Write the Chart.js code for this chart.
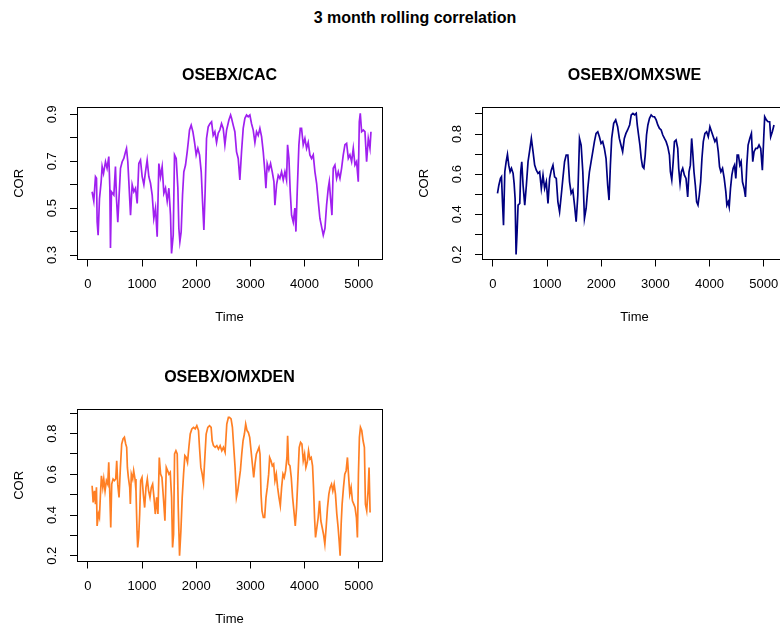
<!DOCTYPE html>
<html>
<head>
<meta charset="utf-8">
<title>3 month rolling correlation</title>
<script src="https://cdn.jsdelivr.net/npm/chart.js@4.4.0/dist/chart.umd.min.js"></script>
<style>
  html, body { margin: 0; padding: 0; background: #fff; overflow: hidden; }
  body { width: 780px; height: 628px; position: relative; }
  canvas { position: absolute; }
  #mainTitle {
    position: absolute; top: 8px; left: 0; width: 830px; text-align: center;
    font: bold 16px "Liberation Sans", Arial, sans-serif; line-height: 20px; color: #000;
  }
</style>
</head>
<body>
<div id="mainTitle">3 month rolling correlation</div>
<canvas id="chartCac" width="390" height="265" style="left:0px;top:60px"></canvas>
<canvas id="chartSwe" width="390" height="265" style="left:405px;top:60px"></canvas>
<canvas id="chartDen" width="390" height="265" style="left:0px;top:362px"></canvas>
<script>
// x axis ticks (trading day index)
var xTicks = [0, 1000, 2000, 3000, 4000, 5000];

// OSEBX/CAC
var cacTime = [79,110,141,160,172,190,215,246,264,290,326,355,387,406,418,436,480,510,529,553,578,603,634,664,695,714,738,757,775,788,818,849,880,911,941,972,1003,1034,1064,1095,1126,1157,1188,1218,1249,1280,1311,1342,1372,1403,1434,1465,1496,1526,1545,1576,1600,1631,1662,1680,1699,1723,1748,1772,1803,1834,1853,1877,1908,1939,1970,2000,2031,2062,2093,2117,2142,2167,2191,2222,2253,2284,2314,2345,2376,2407,2437,2468,2499,2530,2561,2604,2635,
  2653,2683,2714,2745,2776,2806,2837,2868,2899,2930,2960,2991,3022,3053,3084,3114,3145,3176,3207,3238,3268,3287,3311,3342,3373,3404,3435,3453,3484,3515,3545,3576,3607,3638,3668,3687,3712,3736,3761,3792,3822,3841,3865,3896,3921,3945,3976,4007,4038,4068,4099,4130,4161,4192,4223,4253,4284,4315,4346,4377,4407,4438,4457,4481,4506,4530,4561,4592,4623,4654,4684,4715,4746,4777,4808,4838,4869,4900,4931,4961,4992,5011,5029,5054,5085,5115,5146,5177,5208,5226];
var cacCor = [0.57,0.53,0.634,0.627,0.442,0.385,0.54,0.613,0.677,0.648,0.698,0.67,0.72,0.59,0.33,0.57,0.556,0.677,0.54,0.44,0.556,0.67,0.698,0.712,0.74,0.755,0.698,0.613,0.53,0.47,0.60,0.57,0.585,0.52,0.69,0.705,0.634,0.60,0.655,0.705,0.634,0.606,0.556,0.456,0.50,0.378,0.69,0.634,0.677,0.563,0.585,0.53,0.585,0.47,0.307,0.385,0.727,0.712,0.585,0.414,0.357,0.40,0.556,0.655,0.684,0.74,0.78,0.833,0.854,0.826,0.78,0.727,0.755,0.727,0.655,0.53,0.407,0.585,0.797,0.847,0.86,0.868,0.81,0.826,0.78,0.82,0.833,0.86,0.84,0.77,0.833,0.876,0.897,
  0.883,0.854,0.826,0.74,0.712,0.62,0.74,0.84,0.883,0.897,0.89,0.897,0.86,0.833,0.78,0.826,0.81,0.84,0.805,0.74,0.655,0.585,0.69,0.663,0.69,0.655,0.613,0.513,0.60,0.64,0.627,0.655,0.62,0.655,0.62,0.77,0.712,0.57,0.47,0.44,0.50,0.40,0.57,0.77,0.84,0.84,0.77,0.797,0.755,0.78,0.727,0.712,0.727,0.655,0.606,0.53,0.456,0.42,0.385,0.414,0.513,0.585,0.613,0.54,0.47,0.67,0.684,0.627,0.655,0.627,0.67,0.727,0.77,0.776,0.712,0.727,0.698,0.755,0.684,0.698,0.613,0.868,0.904,0.826,0.833,0.826,0.698,0.797,0.755,0.826];
var cacTicks = [0.3, 0.4, 0.5, 0.6, 0.7, 0.8, 0.9];
var cacLabels = [0.3, 0.5, 0.7, 0.9];

// OSEBX/OMXSWE
var sweTime = [86,111,141,160,178,197,221,246,270,294,319,344,374,393,411,429,448,466,497,515,534,558,589,619,650,681,711,742,772,803,834,864,895,926,956,987,1018,1048,1079,1110,1140,1171,1201,1232,1263,1293,1324,1354,1385,1416,1446,1477,1508,1538,1569,1600,1630,1661,1691,1722,1753,1783,1814,1845,1875,1906,1937,1967,1998,2028,2059,2090,2120,2145,2170,2194,2231,2268,2304,2335,2365,2396,2427,2457,2488,
  2525,2555,2586,2617,2647,2666,2690,2715,2739,2764,2788,2813,2837,2862,2892,2923,2954,2984,3015,3045,3076,3107,3137,3168,3199,3229,3260,3278,3303,3327,3352,3382,3413,3431,3456,3480,3505,3536,3566,3597,3621,3646,3670,3689,3713,3738,3762,3787,3811,3836,3860,3885,3915,3946,3977,4007,4038,4069,4099,4130,4161,4185,4210,4240,4271,4301,4320,4344,4363,4387,4412,4436,4461,4485,4510,4534,4559,4583,4608,4639,4663,4688,4712,4743,4773,4798,4822,4853,4884,4914,4945,4975,5000,5018,5049,5080,5110,5129,5159,5190];
var sweCor = [0.504,0.545,0.579,0.587,0.462,0.346,0.612,0.662,0.698,0.645,0.612,0.629,0.604,0.554,0.479,0.20,0.313,0.446,0.454,0.612,0.662,0.545,0.446,0.545,0.662,0.72,0.778,0.712,0.645,0.62,0.604,0.612,0.529,0.595,0.529,0.562,0.454,0.579,0.62,0.645,0.587,0.579,0.462,0.412,0.495,0.579,0.662,0.695,0.695,0.562,0.504,0.52,0.446,0.363,0.495,0.778,0.745,0.612,0.379,0.429,0.529,0.612,0.662,0.712,0.762,0.803,0.811,0.786,0.753,0.762,0.728,0.678,0.545,0.471,0.645,0.778,0.853,0.870,0.836,0.778,0.745,0.712,0.778,0.803,0.820,
  0.845,0.895,0.903,0.895,0.903,0.845,0.795,0.745,0.679,0.637,0.629,0.695,0.795,0.845,0.878,0.895,0.886,0.886,0.87,0.845,0.828,0.82,0.795,0.778,0.762,0.737,0.695,0.612,0.571,0.654,0.762,0.770,0.728,0.629,0.554,0.612,0.629,0.595,0.579,0.487,0.612,0.645,0.778,0.712,0.612,0.545,0.462,0.446,0.495,0.562,0.679,0.762,0.803,0.811,0.786,0.836,0.811,0.786,0.762,0.778,0.712,0.637,0.612,0.629,0.579,0.512,0.446,0.462,0.437,0.529,0.595,0.629,0.645,0.579,0.695,0.695,0.645,0.662,0.562,0.529,0.487,0.645,0.745,0.778,0.803,0.662,0.712,0.728,0.728,0.745,0.728,0.62,0.778,0.886,0.87,0.861,0.861,0.786,0.811,0.845];
var sweTicks = [0.2, 0.3, 0.4, 0.5, 0.6, 0.7, 0.8, 0.9];
var sweLabels = [0.2, 0.4, 0.6, 0.8];

// OSEBX/OMXDEN
var denTime = [79,98,122,141,159,171,196,214,233,251,276,294,318,343,368,386,404,423,441,466,490,515,533,552,576,601,625,650,675,699,717,730,748,773,785,803,828,846,871,889,908,920,938,957,975,1000,1024,1049,1073,1098,1122,1147,1172,1196,1221,1245,1270,1294,1319,1343,1368,1399,1423,1448,1472,1497,1521,1546,1564,1583,1601,1626,1650,1669,1693,1718,1742,1767,1791,1816,1840,1865,1890,1920,1951,1982,2012,2043,2061,2086,2111,2135,2160,2184,2215,2246,2276,2295,2319,2350,2381,2411,2442,2473,2503,2534,2565,2595,
  2614,2644,2669,2693,2718,2743,2767,2792,2816,2841,2865,2890,2914,2939,2963,2988,3013,3037,3062,3086,3111,3135,3160,3178,3197,3215,3240,3264,3289,3313,3338,3356,3381,3405,3430,3454,3479,3503,3528,3553,3577,3602,3626,3651,3675,3688,3706,3731,3755,3780,3804,3829,3853,3878,3902,3927,3952,3976,4001,4025,4050,4074,4099,4123,4148,4166,4185,4203,4228,4252,4277,4301,4326,4350,4375,4399,4424,4449,4473,4498,4522,4547,4571,4596,4620,4639,4657,4676,4694,4719,4743,4768,4792,4811,4835,4860,4884,4909,4933,4958,4976,4995,5013,5032,5056,5081,5105,5124,5148,5173,5191,5210];
var denCor = [0.544,0.462,0.519,0.454,0.536,0.347,0.405,0.388,0.503,0.593,0.536,0.577,0.519,0.569,0.552,0.659,0.519,0.339,0.552,0.577,0.569,0.577,0.667,0.552,0.487,0.634,0.749,0.774,0.782,0.749,0.733,0.634,0.585,0.536,0.454,0.601,0.577,0.618,0.577,0.519,0.323,0.241,0.290,0.405,0.569,0.585,0.503,0.437,0.536,0.577,0.519,0.487,0.536,0.552,0.487,0.405,0.487,0.405,0.683,0.601,0.585,0.470,0.372,0.634,0.618,0.601,0.610,0.487,0.241,0.306,0.700,0.716,0.700,0.437,0.20,0.323,0.487,0.601,0.692,0.683,0.659,0.733,0.798,0.823,0.831,0.823,0.839,0.815,0.733,0.634,0.601,0.560,0.683,0.798,0.831,0.839,0.831,0.765,0.741,0.733,0.741,0.724,0.741,0.716,0.733,0.708,0.847,0.880,
  0.880,0.872,0.831,0.733,0.634,0.487,0.519,0.569,0.618,0.700,0.765,0.798,0.847,0.815,0.806,0.782,0.716,0.651,0.585,0.651,0.700,0.716,0.733,0.700,0.503,0.421,0.388,0.388,0.487,0.536,0.601,0.683,0.667,0.642,0.651,0.569,0.601,0.536,0.487,0.446,0.536,0.601,0.585,0.618,0.683,0.790,0.651,0.642,0.585,0.487,0.421,0.347,0.437,0.585,0.733,0.757,0.749,0.667,0.700,0.634,0.659,0.716,0.675,0.683,0.642,0.536,0.388,0.290,0.339,0.388,0.470,0.372,0.339,0.306,0.257,0.339,0.437,0.503,0.536,0.552,0.519,0.552,0.503,0.405,0.339,0.273,0.20,0.355,0.454,0.536,0.601,0.618,0.683,0.601,0.503,0.536,0.470,0.454,0.437,0.388,0.290,0.601,0.782,0.831,0.815,0.765,0.733,0.454,0.421,0.519,0.634,0.413];
var denTicks = [0.2, 0.3, 0.4, 0.5, 0.6, 0.7, 0.8, 0.9];
var denLabels = [0.2, 0.4, 0.6, 0.8];

Chart.defaults.font.family = '"Liberation Sans", Arial, sans-serif';
Chart.defaults.color = '#000';

// box around the plot region, like R's box()
var boxPlugin = {
  id: 'box',
  afterDatasetsDraw: function(chart) {
    var a = chart.chartArea;
    var ctx = chart.ctx;
    ctx.save();
    ctx.strokeStyle = '#000';
    ctx.lineWidth = 1;
    ctx.strokeRect(Math.round(a.left) + 0.5, Math.round(a.top) + 0.5,
      Math.round(a.right - a.left), Math.round(a.bottom - a.top));
    ctx.restore();
  }
};

function drawPanel(id, title, times, values, color, yMin, yMax, yTicks, yLabels) {
  var points = times.map(function(t, i) { return {x: t, y: values[i]}; });
  var ctx = document.getElementById(id).getContext('2d');
  return new Chart(ctx, {
    type: 'line',
    data: {
      datasets: [{
        data: points,
        borderColor: color,
        borderWidth: 1.7,
        pointRadius: 0,
        tension: 0,
        fill: false
      }]
    },
    plugins: [boxPlugin],
    options: {
      responsive: false,
      animation: false,
      layout: { padding: { left: 0, right: 8, top: 0, bottom: 0 } },
      plugins: {
        legend: { display: false },
        tooltip: { enabled: false },
        title: {
          display: true,
          text: title,
          fullSize: false,  // centre over the plot box, not the canvas
          font: { size: 16, weight: 'bold' },
          padding: { top: 6, bottom: 22.1 }
        }
      },
      scales: {
        x: {
          type: 'linear',
          min: -200,
          max: 5430,
          border: { display: false },
          grid: { drawOnChartArea: false, drawTicks: true, tickLength: 7, color: '#000' },
          ticks: {
            font: { size: 13 },
            padding: 10,
            maxRotation: 0,
            callback: function(v) { return String(v); }
          },
          afterBuildTicks: function(s) { s.ticks = xTicks.map(function(v) { return {value: v}; }); },
          afterFit: function(s) { s.height = 65.5; },
          title: { display: true, text: 'Time', font: { size: 13 }, padding: { top: 0, bottom: 0 } }
        },
        y: {
          type: 'linear',
          min: yMin,
          max: yMax,
          border: { display: false },
          grid: { drawOnChartArea: false, drawTicks: true, tickLength: 7, color: '#000' },
          ticks: {
            font: { size: 13 },
            padding: 8.5,
            minRotation: 90,
            maxRotation: 90,
            crossAlign: 'center',
            callback: function(v) { return yLabels.indexOf(Math.round(v * 10) / 10) >= 0 ? v.toFixed(1) : ''; }
          },
          afterBuildTicks: function(s) { s.ticks = yTicks.map(function(v) { return {value: v}; }); },
          afterFit: function(s) { s.width = 77; },
          title: { display: true, text: 'COR', font: { size: 13 }, padding: { top: 12, bottom: 0 } }
        }
      }
    }
  });
}

drawPanel('chartCac', 'OSEBX/CAC', cacTime, cacCor, '#A020F0', 0.281, 0.930, cacTicks, cacLabels);
drawPanel('chartSwe', 'OSEBX/OMXSWE', sweTime, sweCor, '#000080', 0.175, 0.933, sweTicks, sweLabels);
drawPanel('chartDen', 'OSEBX/OMXDEN', denTime, denCor, '#FF7F24', 0.172, 0.9195, denTicks, denLabels);
</script>
</body>
</html>
